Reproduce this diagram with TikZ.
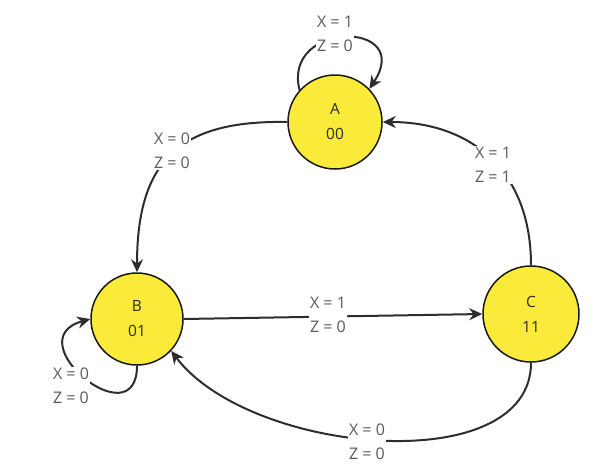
\documentclass[tikz,border=0pt]{standalone}
\usepackage{fontspec}
\setmainfont{Open Sans}
\usetikzlibrary{arrows.meta}
\definecolor{stfill}{RGB}{250,234,58}
\definecolor{edgec}{RGB}{45,45,45}
\definecolor{labc}{RGB}{90,90,90}
\tikzset{
  stnode/.style={circle, draw=black!90, line width=1.5pt, fill=stfill, minimum size=94pt, inner sep=0pt, align=center, text=edgec, font=\fontsize{15.5}{25}\selectfont},
  edge/.style={draw=edgec, line width=2pt, -{Stealth[length=13pt,width=12pt]}},
  lab/.style={fill=white, inner sep=1.5pt, align=center, text=labc, font=\fontsize{16}{24}\selectfont},
}
\begin{document}
\begin{tikzpicture}[x=1pt,y=-1pt]
\useasboundingbox (0,0) rectangle (613,467);
\node[stnode] (A) at (335,122) {A\\00};
\node[stnode, minimum size=92pt] (B) at (137,319) {B\\01};
\node[stnode, minimum size=96pt] (C) at (531,314) {C\\11};
% edges
\draw[edge] (A.138) .. controls (282,20) and (415,20) .. (A.44);
\draw[edge] (A.west) .. controls (180,120) and (137,160) .. (B.north);
\draw[edge] (C.north) .. controls (531,170) and (470,122) .. (A.east);
\draw[edge] (B.east) -- (C.west);
\draw[edge] (C.south) .. controls (531,480) and (250,455) .. (B.-43);
\draw[edge] (B.south) .. controls (137,440) and (15,340) .. (B.west);
% labels
\node[lab] (lA) at (335,34) {X = 1\\Z = 0};
\node[lab] (lAB) at (172,151) {X = 0\\Z = 0};
\node[lab] (lCA) at (493,165) {X = 1\\Z = 1};
\node[lab] (lBC) at (328,315) {X = 1\\Z = 0};
\node[lab] (lCB) at (367,442) {X = 0\\Z = 0};
\node[lab] (lB) at (71,386) {X = 0\\Z = 0};
\end{tikzpicture}
\end{document}
